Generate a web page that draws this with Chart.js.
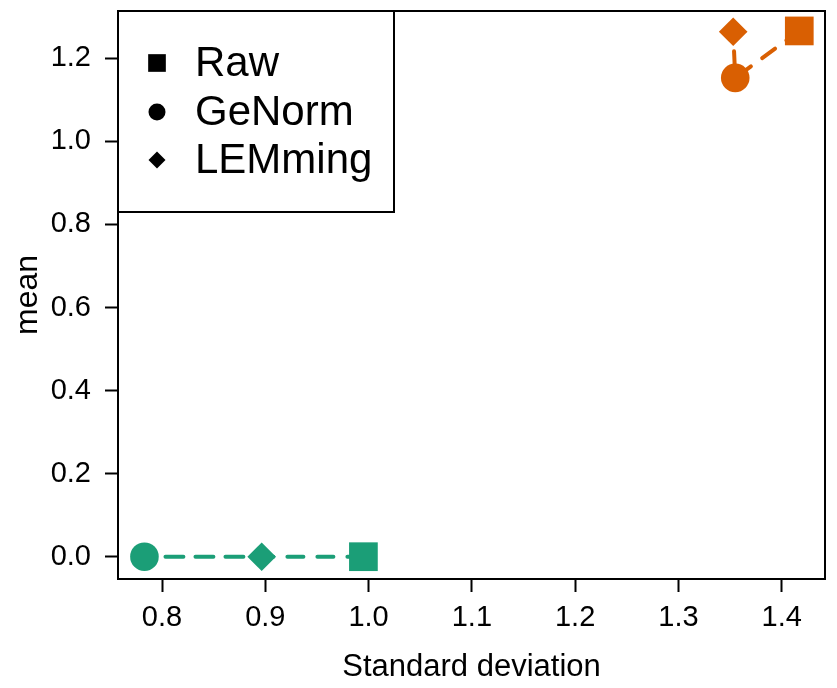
<!DOCTYPE html>
<html>
<head>
<meta charset="utf-8">
<script src="https://cdn.jsdelivr.net/npm/chart.js@4.4.1/dist/chart.umd.min.js"></script>
<style>
	html, body { margin: 0; padding: 0; background: #fff; }
</style>
</head>
<body>
<canvas id="chart" width="837" height="688"></canvas>
<script>
// values
const methods = ['Raw', 'GeNorm', 'LEMming'];
const methodStyles = ['rect', 'circle', 'rectRot'];
const groupColors = ['#1B9E77', '#D95F02'];
const sdGreen = [0.995, 0.783, 0.8965];
const meanGreen = [0.0, 0.0, 0.0];
const sdOrange = [1.417, 1.355, 1.353];
const meanOrange = [1.266, 1.153, 1.264];
const xTicks = [0.8, 0.9, 1.0, 1.1, 1.2, 1.3, 1.4];
const yTicks = [0.0, 0.2, 0.4, 0.6, 0.8, 1.0, 1.2];

const FONT = "'Liberation Sans', Arial, Helvetica, sans-serif";
Chart.defaults.color = '#000';
Chart.defaults.font.family = FONT;

// marker size per point style (rect radius is half-diagonal)
const radiusFor = (style) => (style === 'rect' ? 20.3 : 14.3);

function makeDataset(xs, ys, color) {
	return {
		data: xs.map((x, i) => ({ x, y: ys[i] })),
		showLine: true,
		borderColor: color,
		borderWidth: 4,
		borderDash: [16, 14],
		borderCapStyle: 'round',
		pointStyle: methodStyles,
		pointRadius: methodStyles.map(radiusFor),
		pointBackgroundColor: color,
		pointBorderWidth: 0,
		clip: false,
	};
}

const boxPlugin = {
	id: 'rbox',
	afterDraw(chart) {
		const { ctx, chartArea: a } = chart;
		ctx.save();
		ctx.strokeStyle = '#000';
		ctx.lineWidth = 2;
		ctx.strokeRect(a.left, a.top, a.right - a.left, a.bottom - a.top);

		// legend box in the top-left corner
		const lx = a.left, ly = a.top, lw = 276, lh = 201;
		ctx.fillStyle = '#fff';
		ctx.fillRect(lx, ly, lw, lh);
		ctx.strokeRect(lx, ly, lw, lh);

		const rowY = [63, 112, 160];
		const legendRadius = { rect: 12.5, circle: 8.5, rectRot: 8.5 };
		ctx.fillStyle = '#000';
		ctx.font = '42px ' + FONT;
		ctx.textBaseline = 'middle';
		ctx.textAlign = 'left';
		methods.forEach((m, i) => {
			const style = methodStyles[i];
			Chart.helpers.drawPoint(ctx, {
				pointStyle: style,
				radius: legendRadius[style],
				rotation: 0,
				borderWidth: 0,
			}, 157, rowY[i]);
			ctx.fillText(m, 195, rowY[i] + 1);
		});
		ctx.restore();
	},
};

new Chart(document.getElementById('chart'), {
	type: 'scatter',
	data: {
		datasets: [
			makeDataset(sdGreen, meanGreen, groupColors[0]),
			makeDataset(sdOrange, meanOrange, groupColors[1]),
		],
	},
	options: {
		responsive: false,
		animation: false,
		layout: {
			autoPadding: false,
			padding: { top: 11, right: 12, left: 0, bottom: 0 },
		},
		plugins: {
			legend: { display: false },
			tooltip: { enabled: false },
		},
		scales: {
			x: {
				type: 'linear',
				min: 0.7574,
				max: 1.4419,
				afterBuildTicks: (scale) => {
					scale.ticks = xTicks.map((v) => ({ value: v }));
				},
				afterFit: (scale) => {
					scale.height = 109;
					scale.paddingLeft = 0;
					scale.paddingRight = 0;
				},
				grid: {
					drawOnChartArea: false,
					drawTicks: true,
					tickLength: 13,
					tickWidth: 2,
					tickColor: '#000',
				},
				border: { display: true, color: '#000', width: 2 },
				ticks: {
					font: { size: 29 },
					padding: 9,
					maxRotation: 0,
					callback: (v) => v.toFixed(1),
				},
				title: {
					display: true,
					text: 'Standard deviation',
					font: { size: 31 },
					padding: { top: 0, bottom: 2 },
				},
			},
			y: {
				type: 'linear',
				min: -0.0537,
				max: 1.314,
				afterBuildTicks: (scale) => {
					scale.ticks = yTicks.map((v) => ({ value: v }));
				},
				afterFit: (scale) => {
					scale.width = 118;
					scale.paddingTop = 0;
					scale.paddingBottom = 0;
				},
				grid: {
					drawOnChartArea: false,
					drawTicks: true,
					tickLength: 13,
					tickWidth: 2,
					tickColor: '#000',
				},
				border: { display: true, color: '#000', width: 2 },
				ticks: {
					font: { size: 29 },
					padding: 14,
					callback: (v) => v.toFixed(1),
				},
				title: {
					display: true,
					text: 'mean',
					font: { size: 32 },
					padding: { top: 9, bottom: 0 },
				},
			},
		},
	},
	plugins: [boxPlugin],
});
</script>
</body>
</html>
